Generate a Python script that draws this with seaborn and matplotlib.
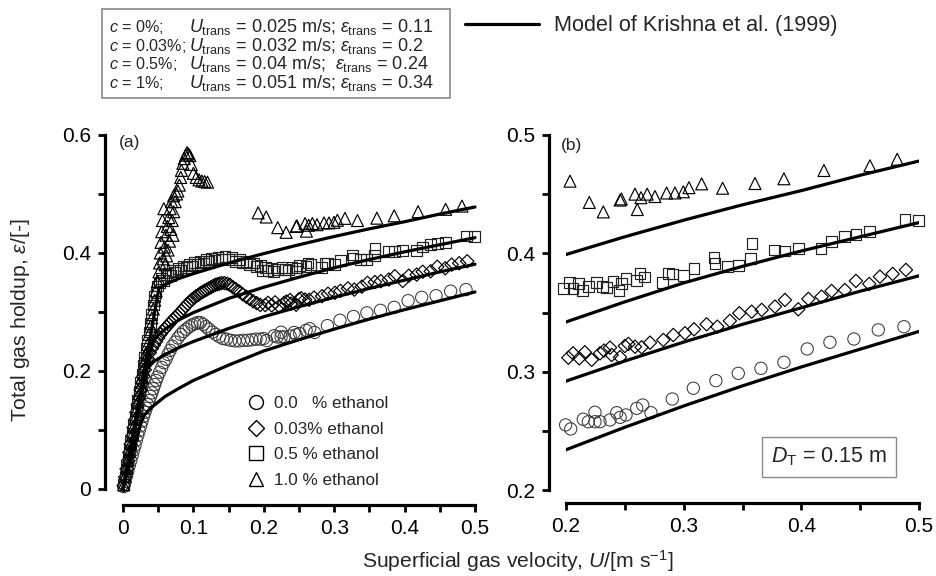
import matplotlib
matplotlib.use("Agg")
import matplotlib.pyplot as plt
import seaborn as sns
from matplotlib.lines import Line2D
from matplotlib.patches import Rectangle

# ---------------- data ----------------
# high velocity range (U >= 0.2 m/s), shown in panel (b) and in panel (a)
u_hi_0 = [0.1997, 0.204, 0.2147, 0.219, 0.2246, 0.2246, 0.2289, 0.2374, 0.2431, 0.246, 0.251,
          0.2601, 0.2652, 0.2722, 0.2903, 0.3082, 0.3274, 0.3464, 0.3657, 0.3852, 0.405, 0.4243,
          0.4447, 0.4654, 0.4872]
eps_hi_0 = [0.255, 0.2516, 0.2598, 0.2577, 0.2657, 0.2577, 0.2577, 0.2592, 0.2653, 0.2614, 0.2634,
            0.269, 0.2718, 0.2653, 0.2769, 0.286, 0.2924, 0.2986, 0.3028, 0.3079, 0.3192, 0.3248,
            0.3276, 0.3353, 0.338]

u_hi_003 = [0.202, 0.206, 0.2113, 0.216, 0.2218, 0.2289, 0.2323, 0.2374, 0.2388, 0.2459, 0.25,
            0.253, 0.2586, 0.2643, 0.2714, 0.2827, 0.2912, 0.3011, 0.3088, 0.3195, 0.3286, 0.3393,
            0.3473, 0.3578, 0.3663, 0.3776, 0.3861, 0.3974, 0.406, 0.4172, 0.4257, 0.437, 0.4464,
            0.4577, 0.4668, 0.4776, 0.4889]
eps_hi_003 = [0.3118, 0.3155, 0.3113, 0.3164, 0.310, 0.3155, 0.3178, 0.3203, 0.3141, 0.3122, 0.3217,
              0.3234, 0.3211, 0.3206, 0.3245, 0.3268, 0.331, 0.3325, 0.3358, 0.340, 0.338, 0.3429,
              0.3494, 0.3507, 0.3522, 0.355, 0.3606, 0.3527, 0.3615, 0.3634, 0.3682, 0.369, 0.3767,
              0.3741, 0.3803, 0.3826, 0.386]

u_hi_05 = [0.198, 0.2028, 0.206, 0.2105, 0.214, 0.219, 0.226, 0.231, 0.2346, 0.240, 0.245, 0.247,
           0.251, 0.260, 0.2629, 0.267, 0.282, 0.2869, 0.2906, 0.300, 0.3088, 0.3257, 0.3266,
           0.3374, 0.3464, 0.3569, 0.358, 0.377, 0.386, 0.3974, 0.4167, 0.4257, 0.437, 0.4464,
           0.4577, 0.488, 0.4993]
eps_hi_05 = [0.370, 0.3756, 0.3705, 0.3747, 0.3685, 0.372, 0.3753, 0.372, 0.371, 0.376, 0.3685,
             0.3747, 0.379, 0.377, 0.383, 0.380, 0.3753, 0.383, 0.3826, 0.381, 0.3874, 0.3967,
             0.3916, 0.389, 0.3896, 0.3959, 0.408, 0.4029, 0.402, 0.4043, 0.4043, 0.410, 0.414,
             0.416, 0.4183, 0.4288, 0.428]

u_hi_1 = [0.2034, 0.2198, 0.2317, 0.246, 0.247, 0.2586, 0.2606, 0.2637, 0.269, 0.2756, 0.2855,
          0.2926, 0.2997, 0.3045, 0.3153, 0.3331, 0.3606, 0.3852, 0.4192, 0.4583, 0.4815]
eps_hi_1 = [0.461, 0.443, 0.435, 0.445, 0.446, 0.450, 0.437, 0.447, 0.450, 0.448, 0.451,
            0.451, 0.452, 0.4555, 0.4587, 0.455, 0.459, 0.463, 0.470, 0.474, 0.4795]

# low velocity range (U < 0.2 m/s), panel (a) only
u_lo_0 = [0.001, 0.003, 0.005, 0.007, 0.009, 0.011, 0.013, 0.015, 0.017, 0.019, 0.021, 0.023,
          0.025, 0.027, 0.029, 0.031, 0.033, 0.035, 0.037, 0.039, 0.041, 0.043, 0.045, 0.047,
          0.049, 0.052, 0.055, 0.058, 0.061, 0.064, 0.067, 0.070, 0.074, 0.078, 0.082, 0.086,
          0.090, 0.094, 0.098, 0.102, 0.106, 0.110, 0.114, 0.118, 0.122, 0.127, 0.132, 0.137,
          0.142, 0.147, 0.153, 0.159, 0.165, 0.171, 0.177, 0.183, 0.189, 0.195]
eps_lo_0 = [0.004, 0.013, 0.022, 0.031, 0.040, 0.048, 0.057, 0.066, 0.074, 0.083, 0.091, 0.099,
            0.107, 0.115, 0.123, 0.130, 0.137, 0.143, 0.150, 0.157, 0.163, 0.170, 0.177, 0.184,
            0.190, 0.198, 0.206, 0.214, 0.220, 0.228, 0.235, 0.242, 0.249, 0.256, 0.262, 0.267,
            0.271, 0.275, 0.278, 0.280, 0.282, 0.282, 0.279, 0.275, 0.271, 0.266, 0.262, 0.258,
            0.255, 0.254, 0.252, 0.251, 0.251, 0.252, 0.252, 0.253, 0.254, 0.254]

u_lo_003 = [0.001, 0.003, 0.005, 0.007, 0.009, 0.011, 0.013, 0.015, 0.017, 0.019, 0.021, 0.023,
            0.025, 0.027, 0.029, 0.031, 0.033, 0.035, 0.038, 0.041, 0.044, 0.047, 0.050, 0.053,
            0.056, 0.059, 0.062, 0.065, 0.068, 0.071, 0.074, 0.077, 0.080, 0.083, 0.086, 0.089,
            0.092, 0.095, 0.098, 0.101, 0.104, 0.107, 0.110, 0.113, 0.116, 0.119, 0.122, 0.125,
            0.128, 0.131, 0.134, 0.137, 0.140, 0.144, 0.148, 0.152, 0.156, 0.160, 0.165, 0.170,
            0.175, 0.180, 0.185, 0.190, 0.195]
eps_lo_003 = [0.006, 0.020, 0.034, 0.048, 0.062, 0.076, 0.090, 0.104, 0.117, 0.130, 0.143, 0.156,
              0.168, 0.180, 0.191, 0.202, 0.212, 0.221, 0.231, 0.238, 0.244, 0.250, 0.256, 0.262,
              0.267, 0.271, 0.275, 0.279, 0.283, 0.287, 0.291, 0.294, 0.298, 0.302, 0.306, 0.310,
              0.314, 0.318, 0.321, 0.324, 0.327, 0.329, 0.332, 0.334, 0.336, 0.338, 0.340, 0.342,
              0.344, 0.346, 0.347, 0.348, 0.349, 0.349, 0.348, 0.346, 0.342, 0.339, 0.335, 0.330,
              0.326, 0.322, 0.318, 0.315, 0.312]

u_lo_05 = [0.001, 0.003, 0.005, 0.007, 0.009, 0.011, 0.013, 0.015, 0.017, 0.019, 0.021, 0.023,
           0.025, 0.027, 0.029, 0.031, 0.033, 0.035, 0.037, 0.039, 0.041, 0.043, 0.045, 0.047,
           0.049, 0.052, 0.055, 0.058, 0.061, 0.064, 0.067, 0.070, 0.074, 0.078, 0.082, 0.086,
           0.090, 0.094, 0.098, 0.102, 0.106, 0.110, 0.114, 0.118, 0.122, 0.126, 0.130, 0.135,
           0.140, 0.145, 0.150, 0.155, 0.160, 0.165, 0.170, 0.175, 0.180, 0.185, 0.190, 0.195]
eps_lo_05 = [0.007, 0.022, 0.036, 0.050, 0.065, 0.079, 0.094, 0.108, 0.122, 0.137, 0.151, 0.166,
             0.180, 0.194, 0.209, 0.223, 0.238, 0.252, 0.266, 0.281, 0.296, 0.312, 0.326, 0.333,
             0.344, 0.349, 0.357, 0.354, 0.363, 0.366, 0.362, 0.370, 0.368, 0.374, 0.371, 0.378,
             0.376, 0.381, 0.378, 0.384, 0.380, 0.386, 0.383, 0.389, 0.386, 0.391, 0.388, 0.393,
             0.390, 0.394, 0.389, 0.392, 0.386, 0.389, 0.383, 0.386, 0.380, 0.383, 0.377, 0.379]

u_lo_1 = [0.001, 0.003, 0.005, 0.007, 0.009, 0.011, 0.013, 0.015, 0.017, 0.019, 0.021, 0.023,
          0.025, 0.027, 0.029, 0.031, 0.033, 0.035, 0.037, 0.039, 0.041, 0.043, 0.045, 0.047,
          0.049, 0.051, 0.052, 0.053, 0.054, 0.055, 0.056, 0.058, 0.057, 0.059, 0.061, 0.063,
          0.065, 0.060, 0.062, 0.064, 0.066, 0.068, 0.070, 0.072, 0.071, 0.067, 0.069, 0.072,
          0.074, 0.076, 0.078, 0.080, 0.082, 0.083, 0.085, 0.087, 0.089, 0.091, 0.093, 0.095,
          0.097, 0.100, 0.104, 0.108, 0.112, 0.116, 0.120, 0.192]
eps_lo_1 = [0.007, 0.021, 0.035, 0.049, 0.063, 0.077, 0.091, 0.105, 0.119, 0.133, 0.147, 0.161,
            0.175, 0.189, 0.203, 0.217, 0.231, 0.245, 0.262, 0.276, 0.290, 0.305, 0.320, 0.336,
            0.352, 0.368, 0.383, 0.400, 0.418, 0.436, 0.455, 0.475, 0.390, 0.410, 0.430, 0.445,
            0.460, 0.380, 0.395, 0.405, 0.420, 0.440, 0.455, 0.470, 0.430, 0.475, 0.487, 0.497,
            0.487, 0.500, 0.505, 0.515, 0.528, 0.540, 0.552, 0.560, 0.566, 0.570, 0.568, 0.565,
            0.550, 0.535, 0.528, 0.524, 0.522, 0.521, 0.520, 0.468]

# model of Krishna et al. (1999)
u_mod_0 = [0, 0.025, 0.03, 0.04, 0.06, 0.08, 0.1, 0.15, 0.2, 0.25, 0.3, 0.35, 0.4, 0.45, 0.5]
eps_mod_0 = [0, 0.11, 0.125, 0.138, 0.157, 0.171, 0.184, 0.210, 0.234, 0.253, 0.271, 0.288,
             0.304, 0.319, 0.334]
u_mod_003 = [0, 0.032, 0.037, 0.045, 0.06, 0.08, 0.1, 0.15, 0.2, 0.25, 0.3, 0.35, 0.4, 0.45, 0.5]
eps_mod_003 = [0, 0.2, 0.209, 0.217, 0.228, 0.240, 0.250, 0.272, 0.292, 0.309, 0.325, 0.340,
               0.354, 0.368, 0.381]
u_mod_05 = [0, 0.04, 0.045, 0.05, 0.06, 0.08, 0.1, 0.15, 0.2, 0.25, 0.3, 0.35, 0.4, 0.45, 0.5]
eps_mod_05 = [0, 0.24, 0.254, 0.261, 0.271, 0.287, 0.299, 0.323, 0.342, 0.359, 0.375, 0.389,
              0.402, 0.414, 0.426]
u_mod_1 = [0, 0.051, 0.056, 0.061, 0.07, 0.08, 0.1, 0.15, 0.2, 0.25, 0.3, 0.35, 0.4, 0.45, 0.5]
eps_mod_1 = [0, 0.34, 0.344, 0.347, 0.352, 0.357, 0.365, 0.383, 0.399, 0.414, 0.428, 0.441,
             0.453, 0.466, 0.478]

legend_labels = ["0.0   % ethanol", "0.03% ethanol", "0.5 % ethanol", "1.0 % ethanol"]
box_rows = [
    (r"$c$ = 0%;", r"$U_{\rm trans}$ = 0.025 m/s; $\varepsilon_{\rm trans}$ = 0.11"),
    (r"$c$ = 0.03%;", r"$U_{\rm trans}$ = 0.032 m/s; $\varepsilon_{\rm trans}$ = 0.2"),
    (r"$c$ = 0.5%;", r"$U_{\rm trans}$ = 0.04 m/s;  $\varepsilon_{\rm trans}$ = 0.24"),
    (r"$c$ = 1%;", r"$U_{\rm trans}$ = 0.051 m/s; $\varepsilon_{\rm trans}$ = 0.34"),
]

a_xticks = [0, 0.05, 0.1, 0.15, 0.2, 0.25, 0.3, 0.35, 0.4, 0.45, 0.5]
a_xlabels = ["0", "", "0.1", "", "0.2", "", "0.3", "", "0.4", "", "0.5"]
a_yticks = [0, 0.1, 0.2, 0.3, 0.4, 0.5, 0.6]
a_ylabels = ["0", "", "0.2", "", "0.4", "", "0.6"]
b_xticks = [0.2, 0.25, 0.3, 0.35, 0.4, 0.45, 0.5]
b_xlabels = ["0.2", "", "0.3", "", "0.4", "", "0.5"]
b_yticks = [0.2, 0.25, 0.3, 0.35, 0.4, 0.45, 0.5]
b_ylabels = ["0.2", "", "0.3", "", "0.4", "", "0.5"]

# ---------------- style ----------------
sns.set_style("ticks")
plt.rcParams["font.family"] = ["Liberation Sans", "DejaVu Sans"]
plt.rcParams["mathtext.fontset"] = "custom"
plt.rcParams["mathtext.rm"] = "Liberation Sans"
plt.rcParams["mathtext.it"] = "Liberation Sans:italic"
plt.rcParams["mathtext.bf"] = "Liberation Sans:bold"

W, H = 936, 576


def fx(px):
    return px / W


def fy(py):
    return 1 - py / H


series = [
    (u_lo_0, eps_lo_0, u_hi_0, eps_hi_0, "o", 78, "#3a3a3a", 0.75),
    (u_lo_003, eps_lo_003, u_hi_003, eps_hi_003, "D", 46, "black", 0.85),
    (u_lo_05, eps_lo_05, u_hi_05, eps_hi_05, "s", 60, "#222222", 0.85),
    (u_lo_1, eps_lo_1, u_hi_1, eps_hi_1, "^", 74, "black", 0.85),
]
models = [(u_mod_0, eps_mod_0), (u_mod_003, eps_mod_003), (u_mod_05, eps_mod_05), (u_mod_1, eps_mod_1)]

fig = plt.figure(figsize=(9.36, 5.76), dpi=100)
ax_a = fig.add_axes([fx(123), fy(489), fx(475) - fx(123), fy(135) - fy(489)])
ax_b = fig.add_axes([fx(566), fy(490), fx(919) - fx(566), fy(135) - fy(490)])

for ax, clip in [(ax_a, False), (ax_b, True)]:
    for lo_u, lo_e, hi_u, hi_e, mk, size, col, lw in series:
        if ax is ax_a:
            uu, ee = lo_u + hi_u, lo_e + hi_e
        else:
            uu, ee = hi_u, hi_e
        sns.scatterplot(x=uu, y=ee, marker=mk, s=size, facecolor="none", edgecolor=col,
                        linewidth=lw, clip_on=False, zorder=3, ax=ax)
    for mu, me in models:
        sns.lineplot(x=mu, y=me, color="black", linewidth=2.3, errorbar=None,
                     clip_on=clip, zorder=4, ax=ax)

ax_a.set_xlim(0, 0.5)
ax_a.set_ylim(0, 0.6)
ax_a.set_xticks(a_xticks, a_xlabels)
ax_a.set_yticks(a_yticks, a_ylabels)
ax_b.set_xlim(0.2, 0.5)
ax_b.set_ylim(0.2, 0.5)
ax_b.set_xticks(b_xticks, b_xlabels)
ax_b.set_yticks(b_yticks, b_ylabels)

sns.despine(ax=ax_a, offset={"left": 13, "bottom": 11.5})
sns.despine(ax=ax_b, offset={"left": 12, "bottom": 9.5})
for ax in (ax_a, ax_b):
    for side in ("left", "bottom"):
        ax.spines[side].set_linewidth(2.3)
        ax.spines[side].set_color("black")
    ax.tick_params(direction="out", length=5, width=2, labelsize=15, colors="black", pad=5)
    ax.set_xlabel("")
    ax.set_ylabel("")
    ax.patch.set_alpha(0)

fig.text(fx(119), fy(135), "(a)", fontsize=12.5, va="top")
fig.text(fx(561), fy(138), "(b)", fontsize=12.5, va="top")

# marker legend in panel (a)
handles = [Line2D([], [], ls="none", marker=mk, markersize=10 if mk != "D" else 8,
                  mfc="none", mec="black", mew=1.0) for _, _, _, _, mk, _, _, _ in series]
ax_a.legend(handles, legend_labels, loc="upper left", bbox_to_anchor=(fx(247), fy(396)),
            bbox_transform=fig.transFigure, frameon=False, fontsize=12.3, handlelength=1.0,
            handletextpad=0.6, labelspacing=0.62, borderpad=0, borderaxespad=0)

# D_T box in panel (b)
fig.text(fx(829), fy(457), r"$D_{\rm T}$ = 0.15 m", fontsize=15.5, ha="center", va="center",
         bbox=dict(boxstyle="square,pad=0.42", fc="white", ec="#8a8a8a", lw=1.0))

# axis labels
fig.text(fx(21), fy(320), r"Total gas holdup, $\varepsilon$/[-]", rotation=90,
         ha="center", va="center", fontsize=15.3)
fig.text(fx(362), fy(561), r"Superficial gas velocity, $U$/[m s$^{-1}$]",
         ha="left", va="center", fontsize=15.2)

# condition box at top
fig.add_artist(Rectangle((fx(102), fy(98)), fx(450) - fx(102), fy(9) - fy(98),
                         transform=fig.transFigure, fill=False, ec="#8a8a8a", lw=1.2))
for i, (left, right) in enumerate(box_rows):
    yb = fy(32 + 18.7 * i)
    fig.text(fx(109), yb, left, fontsize=11.6, va="baseline")
    fig.text(fx(189), yb, right, fontsize=13.0, va="baseline")

fig.legend([Line2D([], [], color="black", lw=2.3)], ["Model of Krishna et al. (1999)"],
           loc="center left", bbox_to_anchor=(fx(465), fy(26)), frameon=False,
           fontsize=15.6, handlelength=3.4, handletextpad=0.7, borderpad=0, borderaxespad=0)

fig.savefig("out.png", dpi=100)
